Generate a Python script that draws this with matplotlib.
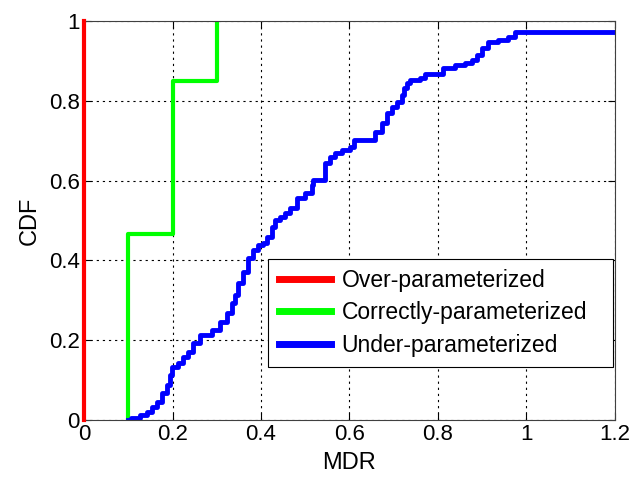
import matplotlib
matplotlib.use("Agg")
import matplotlib.pyplot as plt

plt.rcParams['font.family'] = ['Liberation Sans', 'DejaVu Sans']

# over-parameterized: all at MDR = 0
over_x = [0.0, 0.0]
over_y = [0.0, 1.0]

# correctly-parameterized
correct_x = [0.1, 0.1, 0.2, 0.2, 0.3, 0.3]
correct_y = [0.0, 0.465, 0.465, 0.85, 0.85, 1.0]

# under-parameterized (empirical CDF, step after each x)
under_x = [0.100, 0.105, 0.127, 0.142, 0.154, 0.165, 0.176, 0.188, 0.194, 0.199,
           0.212, 0.224, 0.235, 0.246, 0.262, 0.290, 0.307, 0.323, 0.334, 0.341,
           0.348, 0.359, 0.371, 0.382, 0.393, 0.405, 0.414, 0.425, 0.432, 0.443,
           0.454, 0.466, 0.481, 0.499, 0.515, 0.518, 0.545, 0.556, 0.567, 0.583,
           0.601, 0.610, 0.658, 0.673, 0.685, 0.696, 0.707, 0.719, 0.723, 0.730,
           0.737, 0.759, 0.771, 0.812, 0.838, 0.861, 0.877, 0.888, 0.899, 0.913,
           0.936, 0.958, 0.975, 1.200]
under_y = [0.000, 0.005, 0.013, 0.020, 0.033, 0.045, 0.068, 0.088, 0.113, 0.133,
           0.143, 0.158, 0.170, 0.193, 0.213, 0.225, 0.246, 0.268, 0.293, 0.313,
           0.343, 0.371, 0.406, 0.426, 0.439, 0.444, 0.459, 0.484, 0.501, 0.509,
           0.519, 0.531, 0.556, 0.569, 0.589, 0.601, 0.644, 0.659, 0.669, 0.677,
           0.684, 0.702, 0.722, 0.744, 0.769, 0.784, 0.797, 0.815, 0.832, 0.845,
           0.852, 0.857, 0.867, 0.882, 0.890, 0.895, 0.902, 0.915, 0.932, 0.947,
           0.952, 0.960, 0.972, 0.972]

fig = plt.figure(figsize=(6.32, 4.82), dpi=100)
ax = fig.add_axes([0.133, 0.1286, 0.840, 0.8278])

ax.plot(over_x, over_y, color='#ff0000', lw=3, clip_on=False, zorder=3,
        label='Over-parameterized')
ax.plot(correct_x, correct_y, color='#00ff00', lw=3, label='Correctly-parameterized')
ax.plot(under_x, under_y, color='#0000ff', lw=3.5, drawstyle='steps-post',
        label='Under-parameterized')

ax.set_xlim(0, 1.2)
ax.set_ylim(0, 1)
ax.set_xticks([0, 0.2, 0.4, 0.6, 0.8, 1, 1.2])
ax.set_xticklabels(['0', '0.2', '0.4', '0.6', '0.8', '1', '1.2'])
ax.set_yticks([0, 0.2, 0.4, 0.6, 0.8, 1])
ax.set_yticklabels(['0', '0.2', '0.4', '0.6', '0.8', '1'])
ax.tick_params(direction='in', top=True, right=True, labelsize=16, length=5, pad=3)
ax.grid(True, color='black', linestyle=(0, (2, 3.5)), lw=0.8)
for s in ax.spines.values():
    s.set_color('#404040')
ax.set_xlabel('MDR', fontsize=17, labelpad=5)
ax.set_ylabel('CDF', fontsize=17, labelpad=6)

# legend box stretched to the width used in the original figure
leg = ax.legend(loc='lower left', bbox_to_anchor=(0.347, 0.133, 0.649, 0.268),
                mode='expand', fontsize=16.5,
                fancybox=False, framealpha=1, edgecolor='black',
                handlelength=2.3, handletextpad=0.45, borderpad=0.45,
                labelspacing=0.4, borderaxespad=0)
leg.get_frame().set_linewidth(0.8)
for line in leg.get_lines():
    line.set_linewidth(5)

fig.savefig('out.png', dpi=100)
